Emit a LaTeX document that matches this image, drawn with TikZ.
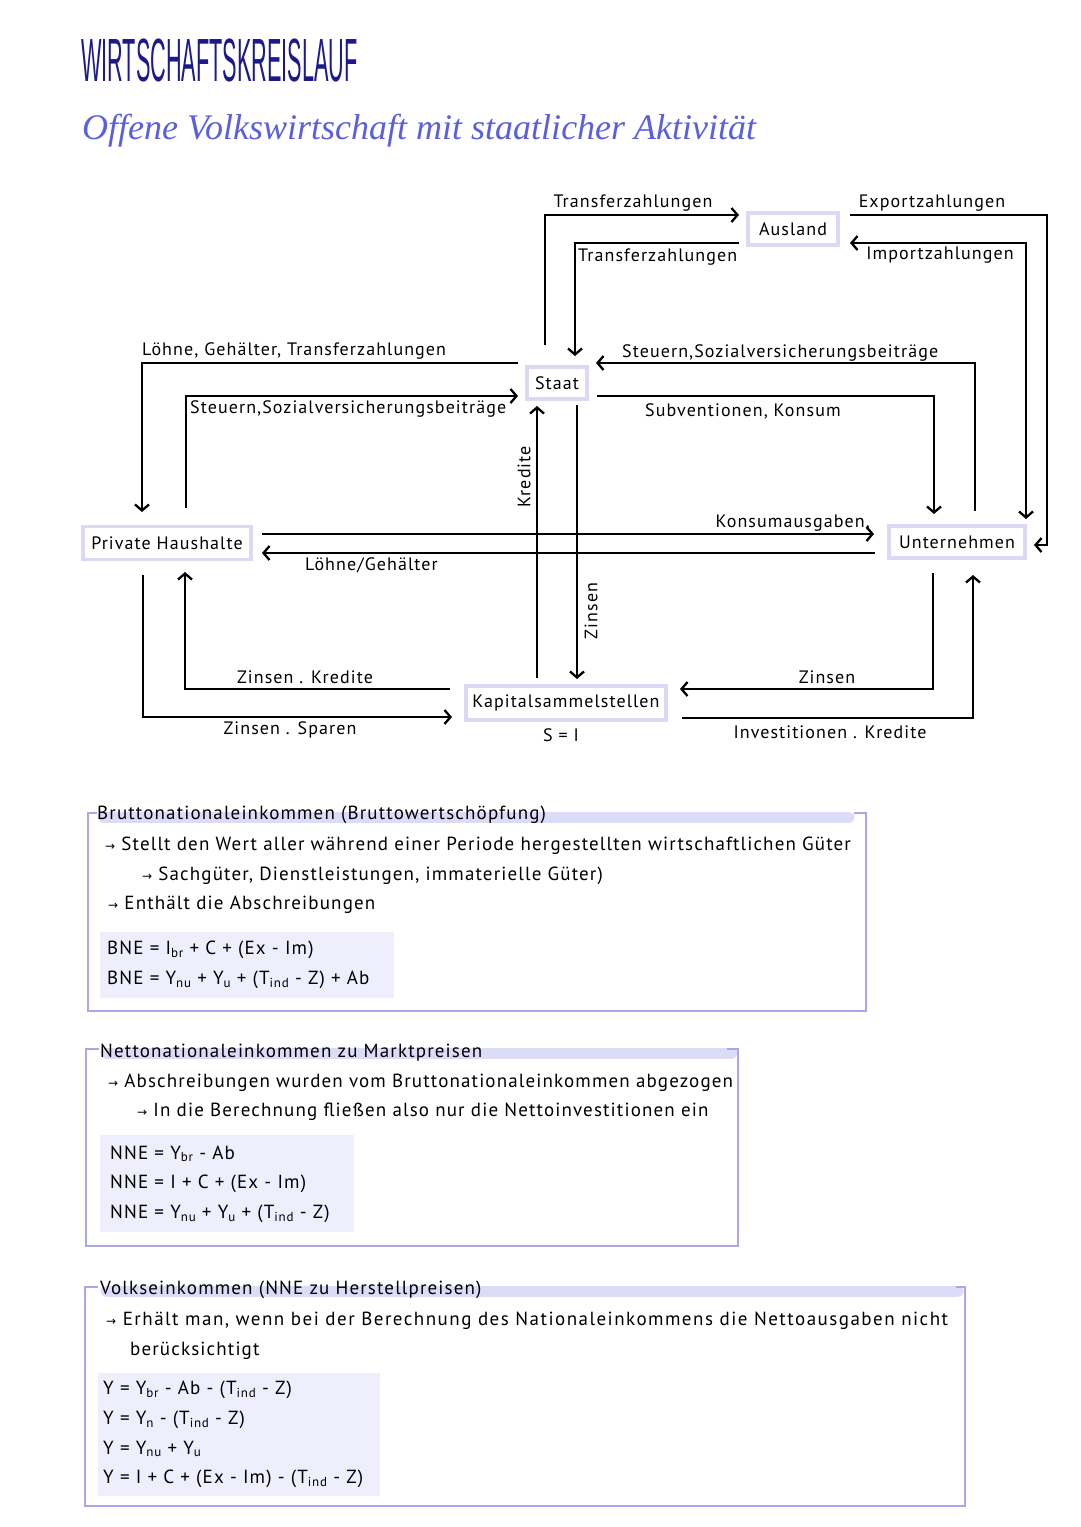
\documentclass[tikz,border=0pt]{standalone}
\usepackage{fontspec}
\usetikzlibrary{arrows.meta,calc}
\newfontfamily\hand[LetterSpace=6]{PT Sans}
\newfontfamily\handwide[LetterSpace=7.8]{PT Sans}
\newfontfamily\titlef{Liberation Sans}
\newfontfamily\subf{Liberation Serif}
\newfontfamily\symf{DejaVu Sans}
\definecolor{navy}{HTML}{1C1A8A}
\definecolor{peri}{HTML}{5A5FE0}
\definecolor{lav}{HTML}{DADAF8}
\definecolor{boxline}{HTML}{A7A8E4}
\definecolor{hlc}{HTML}{DCDCF8}
\definecolor{fboxc}{HTML}{EEEEFC}
\newcommand\lsub[1]{\raisebox{-0.25ex}{\fontsize{13}{13}\selectfont #1}}
\newcommand\rarr{{\symf\fontsize{12}{12}\selectfont →}}
\begin{document}
\begin{tikzpicture}[x=1pt,y=-1pt,
  ent/.style={draw=lav, line width=3.5pt, fill=white, inner sep=0pt, font=\hand\fontsize{18}{20}\selectfont},
  flow/.style={line width=2.3pt, -{Straight Barb[length=6pt,width=14pt,line width=2.3pt]}},
  flowtwo/.style={line width=2.3pt, {Straight Barb[length=6pt,width=14pt,line width=2.3pt]}-{Straight Barb[length=6pt,width=14pt,line width=2.3pt]}},
  lbl/.style={font=\hand\fontsize{18}{20}\selectfont, inner sep=0pt},
  txt/.style={font=\hand\fontsize{19}{21}\selectfont, anchor=west, inner sep=0pt},
  boxl/.style={draw=boxline, line width=1.6pt},
  hlbar/.style={draw=hlc, line width=11pt, line cap=round},
  fbx/.style={fill=fboxc, draw=none}
]
\useasboundingbox[fill=white] (0,0) rectangle (1080,1527);

% titles
\node[anchor=west, inner sep=0pt, text=navy] (title) at (81,60)
  {\scalebox{0.355}[1]{\titlef\fontsize{61}{61}\selectfont WIRTSCHAFTSKREISLAUF}};
\node[anchor=west, inner sep=0pt, text=peri] (subtitle) at (82,131)
  {\subf\itshape\fontsize{36}{38}\selectfont Offene Volkswirtschaft mit staatlicher Aktivität};

% entities
\node[ent, minimum width=90pt, minimum height=32pt] (ausland) at (793,229) {Ausland};
\node[ent, minimum width=60pt, minimum height=32pt] (staat) at (557,383) {Staat};
\node[ent, minimum width=168pt, minimum height=33pt] (ph) at (167,543) {Private Haushalte};
\node[ent, minimum width=136pt, minimum height=32pt] (un) at (957,542) {Unternehmen};
\node[ent, minimum width=200pt, minimum height=34pt] (ks) at (566,703) {Kapitalsammelstellen};
\node[lbl] (si) at (561,735) {S = I};

% connector endpoints
\coordinate (a1) at (545,345);   \coordinate (b1) at (739,215);
\coordinate (a2) at (739,243);   \coordinate (b2) at (575,356);
\coordinate (a3) at (850,215);   \coordinate (b3) at (1034,545);
\coordinate (a4) at (1026,519);  \coordinate (b4) at (850,243);
\coordinate (a5) at (975,511);   \coordinate (b5) at (596,363);
\coordinate (a6) at (597,396);   \coordinate (b6) at (934,514);
\coordinate (a7) at (518,363);   \coordinate (b7) at (142,512);
\coordinate (a8) at (186,508);   \coordinate (b8) at (518,396);
\coordinate (a9) at (537,678);   \coordinate (b9) at (537,406);
\coordinate (a10) at (577,405);  \coordinate (b10) at (577,679);
\coordinate (a11) at (262,534);  \coordinate (b11) at (874,534);
\coordinate (a12) at (875,553);  \coordinate (b12) at (262,553);
\coordinate (a13) at (450,689);  \coordinate (b13) at (185,572);
\coordinate (a14) at (143,575);  \coordinate (b14) at (452,717);
\coordinate (a15) at (933,573);  \coordinate (b15) at (680,689);
\coordinate (a16) at (682,718);  \coordinate (b16) at (973,575);

\draw[flow] (a1) |- (b1);
\draw[flow] (a2) -| (b2);
\draw[flow] (a3) -- (1047,215) -- (1047,545) -- (b3);
\draw[flowtwo] (a4) |- (b4);
\draw[flow] (a5) |- (b5);
\draw[flow] (a6) -| (b6);
\draw[flow] (a7) -| (b7);
\draw[flow] (a8) |- (b8);
\draw[flow] (a9) -- (b9);
\draw[flow] (a10) -- (b10);
\draw[flow] (a11) -- (b11);
\draw[flow] (a12) -- (b12);
\draw[flow] (a13) -| (b13);
\draw[flow] (a14) |- (b14);
\draw[flow] (a15) |- (b15);
\draw[flow] (a16) -| (b16);

% connector labels
\node[lbl] (l1) at (633,203) {Transferzahlungen};
\node[lbl, anchor=west] (l2) at (578,257) {Transferzahlungen};
\node[lbl] (l3) at (932,203) {Exportzahlungen};
\node[lbl] (l4) at (940,255) {Importzahlungen};
\node[lbl, anchor=west] (l5) at (142,351) {Löhne, Gehälter, Transferzahlungen};
\node[lbl, anchor=west] (l6) at (190,409) {Steuern,Sozialversicherungsbeiträge};
\node[lbl, anchor=west] (l7) at (622,353) {Steuern,Sozialversicherungsbeiträge};
\node[lbl, anchor=west] (l8) at (645,411) {Subventionen, Konsum};
\node[lbl, anchor=east] (l9) at (870,523) {Konsumausgaben,};
\node[lbl, anchor=west] (l10) at (305,565) {Löhne/Gehälter};
\node[lbl, rotate=90] (l11) at (524,477) {Kredite};
\node[lbl, rotate=90] (l12) at (591,611) {Zinsen};
\node[lbl] (l13) at (305,677) {Zinsen . Kredite};
\node[lbl] (l14) at (290,730) {Zinsen . Sparen};
\node[lbl] (l15) at (827,677) {Zinsen};
\node[lbl] (l16) at (830,732) {Investitionen . Kredite};

% ---------- Box 1
\draw[hlbar] (103,817) -- (849,817);
\draw[boxl] (97,813) -- (88,813) -- (88,1011) -- (866,1011) -- (866,813) -- (854,813);
\node[txt] (t1) at (97,815) {Bruttonationaleinkommen (Bruttowertschöpfung)};
\node[txt] (t1a) at (105,846) {\rarr\ Stellt den Wert aller während einer Periode hergestellten wirtschaftlichen Güter};
\node[txt] (t1b) at (142,876) {\rarr\ Sachgüter, Dienstleistungen, immaterielle Güter)};
\node[txt] (t1c) at (108,905) {\rarr\ Enthält die Abschreibungen};
\fill[fboxc] (100,932) rectangle (394,998);
\node[txt] (f1a) at (107,950) {BNE = I\lsub{br} + C + (Ex - Im)};
\node[txt] (f1b) at (107,980) {BNE = Y\lsub{nu} + Y\lsub{u} + (T\lsub{ind} - Z) + Ab};

% ---------- Box 2
\draw[hlbar] (106,1053) -- (732,1053);
\draw[boxl] (99,1049) -- (86,1049) -- (86,1246) -- (738,1246) -- (738,1049) -- (727,1049);
\node[txt] (t2) at (100,1053) {Nettonationaleinkommen zu Marktpreisen};
\node[txt] (t2a) at (108,1083) {\rarr\ Abschreibungen wurden vom Bruttonationaleinkommen abgezogen};
\node[txt] (t2b) at (137,1112) {\rarr\ In die Berechnung fließen also nur die Nettoinvestitionen ein};
\fill[fboxc] (100,1135) rectangle (354,1232);
\node[txt] (f2a) at (110,1154) {NNE = Y\lsub{br} - Ab};
\node[txt] (f2b) at (110,1184) {NNE = I + C + (Ex - Im)};
\node[txt] (f2c) at (110,1214) {NNE = Y\lsub{nu} + Y\lsub{u} + (T\lsub{ind} - Z)};

% ---------- Box 3
\draw[hlbar] (106,1291) -- (958,1291);
\draw[boxl] (98,1287) -- (85,1287) -- (85,1506) -- (965,1506) -- (965,1287) -- (956,1287);
\node[txt] (t3) at (100,1290) {Volkseinkommen (NNE zu Herstellpreisen)};
\node[txt, font=\handwide\fontsize{19}{21}\selectfont] (t3a) at (106,1321) {\rarr\ Erhält man, wenn bei der Berechnung des Nationaleinkommens die Nettoausgaben nicht};
\node[txt] (t3b) at (130,1351) {berücksichtigt};
\fill[fboxc] (98,1373) rectangle (380,1496);
\node[txt] (f3a) at (103,1390) {Y = Y\lsub{br} - Ab - (T\lsub{ind} - Z)};
\node[txt] (f3b) at (103,1420) {Y = Y\lsub{n} - (T\lsub{ind} - Z)};
\node[txt] (f3c) at (103,1449) {Y = Y\lsub{nu} + Y\lsub{u}};
\node[txt] (f3d) at (103,1479) {Y = I + C + (Ex - Im) - (T\lsub{ind} - Z)};
\end{tikzpicture}
\end{document}
